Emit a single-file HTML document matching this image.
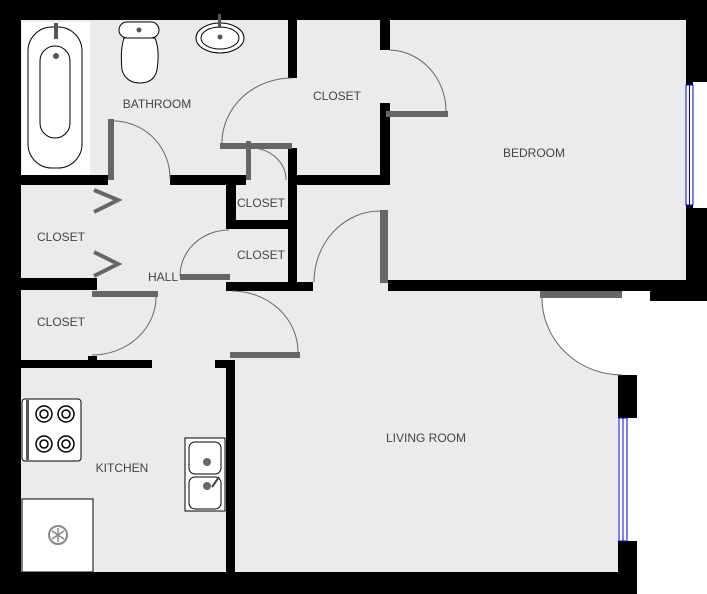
<!DOCTYPE html>
<html><head><style>html,body{margin:0;padding:0;background:#fff}svg{display:block}text{font-family:"Liberation Sans",sans-serif;font-size:12px;fill:#444;text-anchor:middle}</style></head>
<body>
<svg width="707" height="594" viewBox="0 0 707 594" xmlns="http://www.w3.org/2000/svg">
<rect x="21" y="20" width="665" height="262" fill="#ebebed"/>
<rect x="21" y="280" width="597" height="292" fill="#ebebed"/>
<path d="M542,298 A80,77 0 0 0 622,375 L622,291 L542,291 Z" fill="#fff"/>
<g fill="#000">
<rect x="0" y="0" width="707" height="20"/>
<rect x="0" y="0" width="21" height="594"/>
<rect x="0" y="572" width="637" height="22"/>
<rect x="686" y="0" width="21" height="301"/>
<rect x="388" y="280" width="319" height="11"/>
<rect x="650" y="291" width="57" height="10"/>
<rect x="618" y="375" width="19" height="43"/>
<rect x="618" y="541" width="19" height="53"/>
<rect x="21" y="175" width="87" height="10"/>
<rect x="170" y="175" width="76" height="10"/>
<rect x="288" y="20" width="9" height="58"/>
<rect x="380" y="20" width="10" height="30"/>
<rect x="380" y="103" width="10" height="82"/>
<rect x="288" y="175" width="102" height="10"/>
<rect x="288" y="148" width="9" height="134"/>
<rect x="226" y="180" width="10" height="48"/>
<rect x="226" y="220" width="71" height="9"/>
<rect x="226" y="282" width="87" height="9"/>
<rect x="21" y="278" width="76" height="12"/>
<rect x="21" y="360" width="131" height="8"/>
<rect x="215" y="360" width="20" height="8"/>
<rect x="226" y="360" width="9" height="212"/>
<rect x="88" y="356" width="9" height="6"/>
</g>
<rect x="693" y="82" width="14" height="126" fill="#fff"/>
<rect x="686" y="85" width="7" height="120" fill="#fff" stroke="#00f" stroke-width="1"/>
<line x1="689.5" y1="85" x2="689.5" y2="205" stroke="#00f"/>
<rect x="628" y="418" width="9" height="123" fill="#fff"/>
<rect x="619" y="418" width="8" height="123" fill="#fff" stroke="#00f"/>
<line x1="623" y1="418" x2="623" y2="541" stroke="#00f"/>
<g fill="#666">
<rect x="108" y="119" width="6" height="61"/>
<rect x="220" y="143" width="72" height="6"/>
<rect x="246" y="141" width="5" height="39"/>
<rect x="386" y="111" width="62" height="6"/>
<rect x="180" y="274" width="50" height="6"/>
<rect x="380" y="210" width="8" height="73"/>
<rect x="92" y="291" width="66" height="6"/>
<rect x="230" y="352" width="70" height="6"/>
<rect x="540" y="291" width="82" height="7"/>
</g>
<g fill="none" stroke="#666" stroke-width="1">
<path d="M114,121 A57,57 0 0 1 170,178"/>
<path d="M222,143 A70,65 0 0 1 292,78"/>
<path d="M251,148 A35,32 0 0 1 286,180"/>
<path d="M390,50 A58,61 0 0 1 446,111"/>
<path d="M180,276 A49,46 0 0 1 229,230"/>
<path d="M314,282 A66,71 0 0 1 380,211"/>
<path d="M156,297 A64,58 0 0 1 92,355"/>
<path d="M232,291 A66,61 0 0 1 298,352"/>
<path d="M542,298 A80,77 0 0 0 622,375"/>
<path d="M94,190 L118,200 L94,212 M94,252 L118,264 L94,276" stroke-width="4"/>
</g>
<rect x="22" y="22" width="68" height="153" fill="#fff"/>
<rect x="28" y="27" width="54" height="141" rx="24" fill="#fff" stroke="#000"/>
<rect x="40" y="46" width="30" height="92" rx="15" fill="#fff" stroke="#000"/>
<circle cx="56" cy="56" r="3" fill="#555"/>
<rect x="54" y="23" width="4" height="16" fill="#555"/>
<path d="M124,38 Q120,50 122,70 Q126,83 140,83 Q154,83 157,70 Q160,50 155,38 Z" fill="#fff" stroke="#000"/>
<rect x="119" y="22" width="40" height="16" rx="8" fill="#fff" stroke="#000"/>
<circle cx="139" cy="30" r="2.5" fill="#555"/>
<ellipse cx="220" cy="38" rx="24" ry="15" fill="#fff" stroke="#000"/>
<ellipse cx="220" cy="38" rx="19" ry="11" fill="#fff" stroke="#000"/>
<circle cx="220" cy="37" r="2.5" fill="#555"/>
<rect x="218" y="14" width="3" height="14" fill="#555"/>
<rect x="22" y="399" width="59" height="62" rx="3" fill="#fff" stroke="#000"/>
<rect x="26" y="400" width="3" height="60" fill="#555"/>
<g fill="#fff" stroke="#000" stroke-width="1.5">
<circle cx="44" cy="414" r="8"/><circle cx="66" cy="414" r="8"/><circle cx="44" cy="444" r="8"/><circle cx="66" cy="444" r="8"/>
<circle cx="44" cy="414" r="4"/><circle cx="66" cy="414" r="4"/><circle cx="44" cy="444" r="4"/><circle cx="66" cy="444" r="4"/>
</g>
<rect x="22" y="499" width="71" height="73" fill="#fff" stroke="#000"/>
<circle cx="58" cy="535" r="9" fill="none" stroke="#888" stroke-width="2"/>
<path d="M58,528 V542 M52,531 L64,539 M52,539 L64,531" stroke="#888" stroke-width="1.5"/>
<rect x="185" y="438" width="40" height="73" fill="#fff" stroke="#000"/>
<rect x="189" y="442" width="32" height="32" rx="6" fill="#fff" stroke="#000"/>
<rect x="189" y="477" width="32" height="32" rx="6" fill="#fff" stroke="#000"/>
<circle cx="207" cy="462" r="4" fill="#666"/>
<circle cx="207" cy="486" r="4" fill="#666"/>
<path d="M212,487 L219,477" stroke="#444" stroke-width="2"/>
<text x="157" y="108">BATHROOM</text>
<text x="337" y="100">CLOSET</text>
<text x="534" y="157">BEDROOM</text>
<text x="261" y="207">CLOSET</text>
<text x="61" y="241">CLOSET</text>
<text x="261" y="259">CLOSET</text>
<text x="163" y="281">HALL</text>
<text x="61" y="326">CLOSET</text>
<text x="122" y="472">KITCHEN</text>
<text x="426" y="442">LIVING ROOM</text>
</svg>
</body></html>
